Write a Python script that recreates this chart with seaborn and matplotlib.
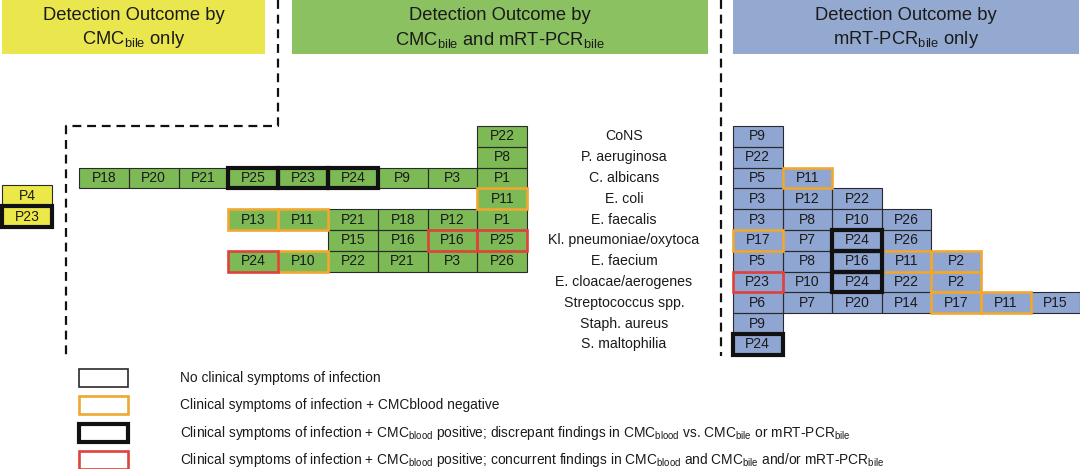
import numpy as np
import pandas as pd
import matplotlib
matplotlib.use("Agg")
import matplotlib.pyplot as plt
from matplotlib.colors import ListedColormap
from matplotlib.patches import Rectangle
import seaborn as sns

# Organisms (rows, top to bottom)
organisms = [
    "CoNS", "P. aeruginosa", "C. albicans", "E. coli", "E. faecalis",
    "Kl. pneumoniae/oxytoca", "E. faecium", "E. cloacae/aerogenes",
    "Streptococcus spp.", "Staph. aureus", "S. maltophilia",
]

# Patient IDs per organism; status: n = no symptoms, o = symptoms + CMCblood neg,
# b = CMCblood pos / discrepant, r = CMCblood pos / concurrent
yellow_ids = [[], [], [], ["P4"], ["P23"], [], [], [], [], [], []]
yellow_status = [[], [], [], ["n"], ["b"], [], [], [], [], [], []]

green_ids = [
    ["P22"],
    ["P8"],
    ["P18", "P20", "P21", "P25", "P23", "P24", "P9", "P3", "P1"],
    ["P11"],
    ["P13", "P11", "P21", "P18", "P12", "P1"],
    ["P15", "P16", "P16", "P25"],
    ["P24", "P10", "P22", "P21", "P3", "P26"],
    [], [], [], [],
]
green_status = [
    ["n"],
    ["n"],
    ["n", "n", "n", "b", "b", "b", "n", "n", "n"],
    ["o"],
    ["o", "o", "n", "n", "n", "n"],
    ["n", "n", "r", "r"],
    ["r", "o", "n", "n", "n", "n"],
    [], [], [], [],
]

blue_ids = [
    ["P9"],
    ["P22"],
    ["P5", "P11"],
    ["P3", "P12", "P22"],
    ["P3", "P8", "P10", "P26"],
    ["P17", "P7", "P24", "P26"],
    ["P5", "P8", "P16", "P11", "P2"],
    ["P23", "P10", "P24", "P22", "P2"],
    ["P6", "P7", "P20", "P14", "P17", "P11", "P15"],
    ["P9"],
    ["P24"],
]
blue_status = [
    ["n"],
    ["n"],
    ["n", "o"],
    ["n", "n", "n"],
    ["n", "n", "n", "n"],
    ["o", "n", "b", "n"],
    ["n", "n", "b", "o", "o"],
    ["r", "n", "b", "n", "o"],
    ["n", "n", "n", "n", "o", "o", "n"],
    ["n"],
    ["b"],
]

headers = [
    ("Detection Outcome by", r"CMC$_\mathregular{bile}$ only"),
    ("Detection Outcome by", r"CMC$_\mathregular{bile}$ and mRT-PCR$_\mathregular{bile}$"),
    ("Detection Outcome by", r"mRT-PCR$_\mathregular{bile}$ only"),
]
legend_labels = [
    "No clinical symptoms of infection",
    "Clinical symptoms of infection + CMCblood negative",
    r"Clinical symptoms of infection + CMC$_\mathregular{blood}$ positive; discrepant findings in "
    r"CMC$_\mathregular{blood}$ vs. CMC$_\mathregular{bile}$ or mRT-PCR$_\mathregular{bile}$",
    r"Clinical symptoms of infection + CMC$_\mathregular{blood}$ positive; concurrent findings in "
    r"CMC$_\mathregular{blood}$ and CMC$_\mathregular{bile}$ and/or mRT-PCR$_\mathregular{bile}$",
]

STYLE = {
    "n": ("#2a2a2a", 0.8),
    "o": ("#F0A830", 1.9),
    "b": ("#111111", 3.0),
    "r": ("#E0413A", 1.9),
}
YELLOW, GREEN, BLUE = "#EDE84A", "#7DB955", "#8FA5D2"
HEAD_COLORS = ["#EAE64E", "#8BC160", "#94A9CF"]

sns.set_theme(style="white")
plt.rcParams["font.family"] = ["Liberation Sans", "DejaVu Sans"]

W, H = 1080, 469
fig = plt.figure(figsize=(W / 100, H / 100), dpi=100)

# overlay axes in pixel coordinates
ov = fig.add_axes([0, 0, 1, 1])
ov.set_xlim(0, W)
ov.set_ylim(H, 0)
ov.set_axis_off()

ROW_TOP, ROW_H = 126, 20.8
n_rows = len(organisms)


def build(ids, status, ncols, align):
    labels = np.full((n_rows, ncols), "", dtype=object)
    stat = np.full((n_rows, ncols), "", dtype=object)
    for r, (row, srow) in enumerate(zip(ids, status)):
        start = ncols - len(row) if align == "right" else 0
        for k, (pid, s) in enumerate(zip(row, srow)):
            labels[r, start + k] = pid
            stat[r, start + k] = s
    return labels, stat


def panel(ids, status, ncols, align, color, left_px, col_w, top_px=ROW_TOP):
    labels, stat = build(ids, status, ncols, align)
    present = pd.DataFrame((labels != "").astype(float))
    ax = fig.add_axes([left_px / W, 1 - (top_px + n_rows * ROW_H) / H,
                       ncols * col_w / W, n_rows * ROW_H / H])
    sns.heatmap(present, mask=present == 0, cmap=ListedColormap([color]),
                cbar=False, annot=labels, fmt="", linewidths=0, ax=ax,
                annot_kws={"fontsize": 10, "color": "#1a1a1a"})
    ax.patch.set_visible(False)
    ax.set_xticks([])
    ax.set_yticks([])
    for code in ["n", "o", "r", "b"]:
        ec, lw = STYLE[code]
        for r, c in zip(*np.where(stat == code)):
            ax.add_patch(Rectangle((c, r), 1, 1, fill=False, edgecolor=ec,
                                   lw=lw, clip_on=False,
                                   zorder={"n": 3, "o": 4, "r": 4, "b": 5}[code]))
    return ax


panel(yellow_ids, yellow_status, 1, "left", YELLOW, 2, 50, top_px=123)
panel(green_ids, green_status, 9, "right", GREEN, 79, 49.8)
panel(blue_ids, blue_status, 7, "left", BLUE, 733, 49.6)

# organism labels
for r, name in enumerate(organisms):
    ov.text(624, ROW_TOP + (r + 0.5) * ROW_H, name, ha="center", va="center",
            fontsize=10.2, color="#1a1a1a")

# header boxes
head_spans = [(2, 265), (292, 708), (733, 1079)]
for (x0, x1), col, (l1, l2) in zip(head_spans, HEAD_COLORS, headers):
    ov.add_patch(Rectangle((x0, 0), x1 - x0, 54, facecolor=col, edgecolor="none"))
    cx = (x0 + x1) / 2
    ov.text(cx, 16, l1, ha="center", va="center", fontsize=13.2, color="#1a1a1a")
    ov.text(cx, 40, l2, ha="center", va="center", fontsize=13.2, color="#1a1a1a")

# dashed separators
dash = dict(color="#111111", lw=1.6, linestyle=(0, (4, 2.6)))
ov.plot([278, 278, 66, 66], [0, 126, 126, 356], **dash)
ov.plot([721, 721], [0, 356], **dash)

# legend
leg_y = [378, 405.5, 433, 460]
leg_codes = ["n", "o", "b", "r"]
for y, code, text in zip(leg_y, leg_codes, legend_labels):
    ec, lw = STYLE[code]
    ov.add_patch(Rectangle((79, y - 9), 49, 18, fill=False, edgecolor=ec,
                           lw=max(lw, 1.2)))
    ov.text(180, y, text, ha="left", va="center", fontsize=9.9, color="#1a1a1a")

fig.savefig("out.png", dpi=100)
